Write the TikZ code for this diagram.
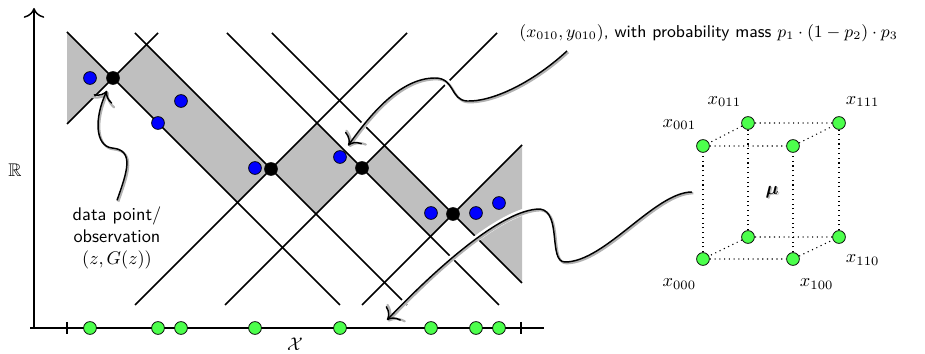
\documentclass[tikz,border=0pt]{standalone}
\usepackage{amsmath,amssymb,bm}
\usepackage{tikz}
\usetikzlibrary{positioning,arrows.meta}

\begin{document}
\begin{tikzpicture}[x=0.546pt,y=-0.546pt,
    dotnode/.style={circle,draw=black,thin,inner sep=0pt,minimum size=7pt},
    sample/.style={dotnode,fill=blue},
    obs/.style={dotnode,fill=black},
    proj/.style={dotnode,fill=green!70},
    cone/.style={thick},
    cubeedge/.style={dotted,semithick},
    vlabel/.style={inner sep=1pt},
    pointer/.style={-{To[scale=1.6]},thick,
      preaction={draw=white,line width=3.5pt,arrows=-},
      preaction={draw=gray!60,line width=1.2pt,transform canvas={shift={(0.7pt,-0.7pt)}}}}]
    \useasboundingbox (0,0) rectangle (925,354);
    % region between the two envelopes
    \fill[gray!50] (67,32) -- (113,78) -- (146.5,44.5) -- (271,169) -- (317,123) -- (362,168)
      -- (384.5,145.5) -- (453,214) -- (522,145) -- (522,283) -- (453,214) -- (430.5,236.5)
      -- (362,168) -- (316,214) -- (271,169) -- (237.5,202.5) -- (113,78) -- (67,124) -- cycle;
    % cones through the observations
    \draw[cone] (67,32) -- (340,305);
    \draw[cone] (67,124) -- (158,33);
    \draw[cone] (135,33) -- (407,305);
    \draw[cone] (135,305) -- (407,33);
    \draw[cone] (227,33) -- (499,305);
    \draw[cone] (225,305) -- (497,33);
    \draw[cone] (272,33) -- (522,283);
    \draw[cone] (362,305) -- (522,145);
    % axes
    \draw[thick,-{To[scale=1.6]}] (34,328) -- (34,8);
    \draw[thick] (30,328) -- (544,328);
    \draw[thick] (67,322) -- (67,334);
    \draw[thick] (521,322) -- (521,334);
    \node (rlab) at (15,170) {$\mathbb{R}$};
    \node (xlab) at (295,344) {$\mathcal{X}$};
    % sampled points and their projections
    \node[sample] (s1) at (90,78) {};
    \node[sample] (s2) at (158,123) {};
    \node[sample] (s3) at (181,101) {};
    \node[sample] (s4) at (255,168) {};
    \node[sample] (s5) at (340,157) {};
    \node[sample] (s6) at (431,213) {};
    \node[sample] (s7) at (476,213) {};
    \node[sample] (s8) at (499,203) {};
    \node[proj] (z1) at (90,328) {};
    \node[proj] (z2) at (158,328) {};
    \node[proj] (z3) at (181,328) {};
    \node[proj] (z4) at (255,328) {};
    \node[proj] (z5) at (340,328) {};
    \node[proj] (z6) at (431,328) {};
    \node[proj] (z7) at (476,328) {};
    \node[proj] (z8) at (499,328) {};
    % observations
    \node[obs] (d1) at (113,78) {};
    \node[obs] (d2) at (271,169) {};
    \node[obs] (d3) at (362,168) {};
    \node[obs] (d4) at (453,214) {};
    % cube of vertices
    \node[proj] (c000) at (703,259) {};
    \node[proj] (c100) at (793,259) {};
    \node[proj] (c010) at (748,237) {};
    \node[proj] (c110) at (839,237) {};
    \node[proj] (c001) at (703,146) {};
    \node[proj] (c101) at (793,146) {};
    \node[proj] (c011) at (748,123) {};
    \node[proj] (c111) at (839,123) {};
    \draw[cubeedge] (c000) -- (c100) -- (c110) -- (c010) -- (c000);
    \draw[cubeedge] (c001) -- (c101) -- (c111) -- (c011) -- (c001);
    \draw[cubeedge] (c000) -- (c001);
    \draw[cubeedge] (c100) -- (c101);
    \draw[cubeedge] (c010) -- (c011);
    \draw[cubeedge] (c110) -- (c111);
    \node[vlabel,above left=5pt and 0pt of c001] (l001) {$x_{001}$};
    \node[vlabel,above left=5pt and 0pt of c011] (l011) {$x_{011}$};
    \node[vlabel,above right=5pt and 0pt of c111] (l111) {$x_{111}$};
    \node[vlabel,below left=7pt and 0pt of c000] (l000) {$x_{000}$};
    \node[vlabel,below right=7pt and 0pt of c100] (l100) {$x_{100}$};
    \node[vlabel,below right=6pt and 0pt of c110] (l110) {$x_{110}$};
    \node[text=gray!50] (mushadow) at (773.5,193.5) {$\boldsymbol{\mu}$};
    \node (mu) at (772,192) {$\boldsymbol{\mu}$};
    % labels and pointers
    \node[font=\sffamily,align=center] (obslabel) at (117,238) {data point/\\observation\\$(z,G(z))$};
    \node[font=\small\sffamily,anchor=west,inner sep=0pt] (masslabel) at (519,33)
      {\scalebox{1.045}{$(x_{010},y_{010})$, with probability mass $p_1\cdot(1-p_2)\cdot p_3$}};
    \coordinate (massfoot) at (567,51);
    \coordinate (cubefoot) at (692,192);
    \coordinate (axisfoot) at (387,320);
    \draw[pointer,shorten >=4pt] (obslabel.north) .. controls (127,172) and (135,150) .. (112,148)
      .. controls (95,146) and (94,118) .. (d1);
    \draw[pointer,shorten >=4pt] (massfoot) .. controls (530,85) and (490,102) .. (467,101)
      .. controls (450,100) and (455,78) .. (435,78)
      .. controls (400,78) and (370,115) .. (s5);
    \draw[pointer] (cubefoot) .. controls (655,192) and (605,262) .. (565,262)
      .. controls (548,262) and (562,212) .. (540,209)
      .. controls (500,209) and (430,275) .. (axisfoot);
  \end{tikzpicture}
\end{document}
